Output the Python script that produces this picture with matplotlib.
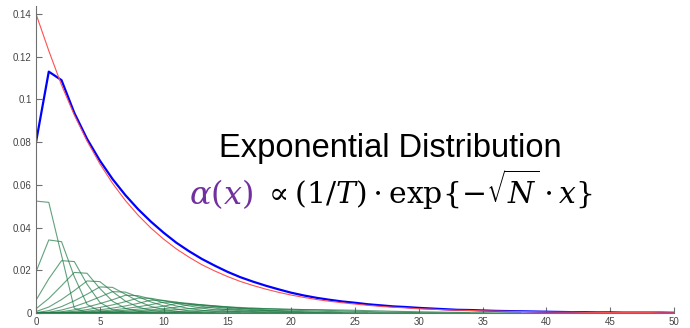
import matplotlib
matplotlib.use("Agg")
import matplotlib.pyplot as plt
from matplotlib.ticker import FuncFormatter

# exponential target (red), read at integer x = 0..50
red_y = [0.1400, 0.1228, 0.1067, 0.0927, 0.0805, 0.0699, 0.0607, 0.0527, 0.0458, 0.0398,
         0.0346, 0.0300, 0.0261, 0.0226, 0.0197, 0.0171, 0.0148, 0.0129, 0.0112, 0.0097,
         0.0084, 0.0073, 0.0063, 0.0055, 0.0048, 0.0042, 0.0036, 0.0031, 0.0027, 0.0024,
         0.0020, 0.0018, 0.0015, 0.0013, 0.0012, 0.0010, 0.0009, 0.0008, 0.0007, 0.0006,
         0.0005, 0.0004, 0.0004, 0.0003, 0.0003, 0.0002, 0.0002, 0.0002, 0.0002, 0.0001,
         0.0001]

# summed curve (blue)
blue_y = [0.0800, 0.1130, 0.1090, 0.0937, 0.0815, 0.0714, 0.0627, 0.0552, 0.0486, 0.0428,
          0.0376, 0.0329, 0.0289, 0.0253, 0.0222, 0.0193, 0.0168, 0.0147, 0.0128, 0.0111,
          0.0095, 0.0082, 0.0071, 0.0062, 0.0054, 0.0048, 0.0041, 0.0036, 0.0031, 0.0028,
          0.0024, 0.0021, 0.0018, 0.0015, 0.0014, 0.0012, 0.0010, 0.0009, 0.0008, 0.0007,
          0.0006, 0.0005, 0.0004, 0.0004, 0.0003, 0.0003, 0.0002, 0.0002, 0.0002, 0.0002,
          0.0001]

# individual components (green), each starting at x = 0
c0 = [0.0524, 0.0518, 0.0270, 0.0022, 0.0004, 0.0001, 0.0]
c1 = [0.0193, 0.0342, 0.0334, 0.0170, 0.0040, 0.0009, 0.0002, 0.0]
c2 = [0.0060, 0.0160, 0.0245, 0.0241, 0.0135, 0.0050, 0.0015, 0.0004, 0.0001, 0.0]
c3 = [0.0020, 0.0068, 0.0128, 0.0190, 0.0186, 0.0115, 0.0055, 0.0022, 0.0008, 0.0003,
      0.0001, 0.0]
c4 = [0.0007, 0.0028, 0.0063, 0.0105, 0.0150, 0.0147, 0.0100, 0.0056, 0.0028, 0.0012,
      0.0005, 0.0002, 0.0001, 0.0]
c5 = [0.0002, 0.0011, 0.0030, 0.0057, 0.0088, 0.0122, 0.0120, 0.0088, 0.0055, 0.0031,
      0.0016, 0.0008, 0.0003, 0.0001, 0.0]
c6 = [0.0001, 0.0004, 0.0014, 0.0030, 0.0051, 0.0075, 0.0100, 0.0098, 0.0076, 0.0052,
      0.0033, 0.0019, 0.0010, 0.0005, 0.0002, 0.0001, 0.0]
c7 = [0.0, 0.0002, 0.0006, 0.0015, 0.0028, 0.0044, 0.0062, 0.0083, 0.0081, 0.0066,
      0.0048, 0.0033, 0.0021, 0.0013, 0.0007, 0.0004, 0.0002, 0.0001, 0.0]
c8 = [0.0, 0.0001, 0.0003, 0.0008, 0.0016, 0.0026, 0.0038, 0.0053, 0.0070, 0.0069,
      0.0058, 0.0045, 0.0033, 0.0023, 0.0015, 0.0010, 0.0006, 0.0003, 0.0002, 0.0001, 0.0]
c9 = [0.0, 0.0, 0.0001, 0.0004, 0.0009, 0.0015, 0.0023, 0.0033, 0.0045, 0.0060,
      0.0059, 0.0051, 0.0041, 0.0031, 0.0023, 0.0016, 0.0011, 0.0007, 0.0004, 0.0002,
      0.0001, 0.0]
c10 = [0.0, 0.0, 0.0, 0.0002, 0.0005, 0.0009, 0.0014, 0.0021, 0.0029, 0.0039,
       0.0051, 0.0050, 0.0045, 0.0037, 0.0029, 0.0022, 0.0016, 0.0011, 0.0008, 0.0005,
       0.0003, 0.0002, 0.0001, 0.0]
c11 = [0.0, 0.0, 0.0, 0.0001, 0.0003, 0.0005, 0.0008, 0.0013, 0.0018, 0.0024,
       0.0032, 0.0044, 0.0043, 0.0039, 0.0033, 0.0027, 0.0021, 0.0016, 0.0012, 0.0008,
       0.0006, 0.0004, 0.0002, 0.0001, 0.0]
c12 = [0.0, 0.0, 0.0, 0.0, 0.0001, 0.0003, 0.0005, 0.0008, 0.0011, 0.0015,
       0.0020, 0.0027, 0.0038, 0.0037, 0.0034, 0.0029, 0.0024, 0.0019, 0.0015, 0.0011,
       0.0008, 0.0006, 0.0004, 0.0003, 0.0002, 0.0001, 0.0]
c14 = [0.0, 0.0, 0.0, 0.0, 0.0, 0.0001, 0.0002, 0.0004, 0.0006, 0.0009,
       0.0012, 0.0016, 0.0020, 0.0024, 0.0029, 0.0028, 0.0026, 0.0023, 0.0020, 0.0017,
       0.0014, 0.0011, 0.0009, 0.0007, 0.0005, 0.0004, 0.0003, 0.0002, 0.0001, 0.0001, 0.0]
c17 = [0.0, 0.0, 0.0, 0.0, 0.0, 0.0, 0.0, 0.0001, 0.0002, 0.0003,
       0.0005, 0.0007, 0.0009, 0.0011, 0.0014, 0.0017, 0.0019, 0.0022, 0.0021, 0.0020,
       0.0018, 0.0016, 0.0014, 0.0012, 0.0010, 0.0008, 0.0007, 0.0005, 0.0004, 0.0003,
       0.0002, 0.0002, 0.0001, 0.0001, 0.0]
c21 = [0.0, 0.0, 0.0, 0.0, 0.0, 0.0, 0.0, 0.0, 0.0, 0.0,
       0.0001, 0.0002, 0.0003, 0.0004, 0.0005, 0.0007, 0.0008, 0.0010, 0.0012, 0.0013,
       0.0015, 0.0016, 0.0016, 0.0015, 0.0014, 0.0013, 0.0011, 0.0010, 0.0008, 0.0007,
       0.0006, 0.0005, 0.0004, 0.0003, 0.0002, 0.0002, 0.0001, 0.0001, 0.0]
greens = [c0, c1, c2, c3, c4, c5, c6, c7, c8, c9, c10, c11, c12, c14, c17, c21]

plt.rcParams['mathtext.fontset'] = 'dejavuserif'

fig = plt.figure(figsize=(6.9, 3.28), dpi=100)
ax = fig.add_axes([0.0522, 0.0457, 0.9246, 0.9345])

for g in greens:
    ax.plot(range(len(g)), g, color='#1f7a45', alpha=0.7, lw=0.8)
ax.plot(range(len(blue_y)), blue_y, color='#0000ff', lw=1.6)
ax.plot(range(len(red_y)), red_y, color='#ff5050', lw=0.8)

ax.set_xlim(0, 50)
ax.set_ylim(0, 0.1435)
ax.set_xticks(range(0, 51, 5))
ax.set_yticks([0, 0.02, 0.04, 0.06, 0.08, 0.1, 0.12, 0.14])
ax.yaxis.set_major_formatter(FuncFormatter(lambda v, p: '%g' % v))
for s in ['top', 'right']:
    ax.spines[s].set_visible(False)
for s in ['left', 'bottom']:
    ax.spines[s].set_color('#707070')
    ax.spines[s].set_linewidth(0.8)
ax.tick_params(direction='in', length=4, width=0.8, color='#707070',
               labelsize=7, labelcolor='#444444', pad=3)
for lab in ax.get_xticklabels() + ax.get_yticklabels():
    lab.set_family('Liberation Sans')

fig.text(0.566, 0.548, 'Exponential Distribution', family='Liberation Sans',
         fontsize=23.5, ha='center', va='center')
fig.text(0.366, 0.378, r'$\alpha(x)$', fontsize=23, color='#7030a0',
         ha='right', va='baseline')
fig.text(0.381, 0.378, r'$\propto (1/T)\cdot\mathrm{exp}\{-\sqrt{N}\cdot x\}$',
         fontsize=21.5, ha='left', va='baseline')

fig.savefig('out.png', dpi=100)
